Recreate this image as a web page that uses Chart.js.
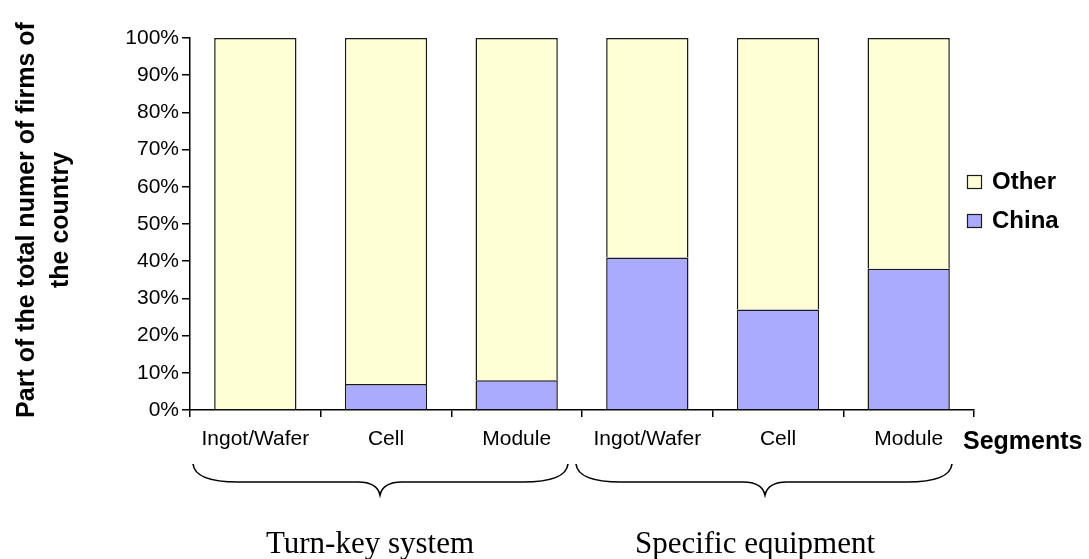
<!DOCTYPE html>
<html>
<head>
<meta charset="utf-8">
<script src="https://cdn.jsdelivr.net/npm/chart.js@4/dist/chart.umd.min.js"></script>
<style>
  html, body { margin: 0; padding: 0; background: #fff; }
  #wrap { width: 1089px; height: 559px; position: relative; }
</style>
</head>
<body>
<div id="wrap"><canvas id="chart" width="1089" height="559"></canvas></div>
<script>
// Segment categories (two groups of three)
const segments   = ['Ingot/Wafer', 'Cell', 'Module', 'Ingot/Wafer', 'Cell', 'Module'];
const groups     = ['Turn-key system', 'Specific equipment'];
// Share of firms, percent
const chinaShare = [0, 7, 8, 41, 27, 38];
const otherShare = [100, 93, 92, 59, 73, 62];
const yTicks     = [0, 10, 20, 30, 40, 50, 60, 70, 80, 90, 100];

const OTHER_FILL = '#FFFFD5';
const CHINA_FILL = '#AAAAFF';
const EDGE  = '#1a1a1a';
const SANS  = "'Liberation Sans', Arial, sans-serif";
const SERIF = "'Liberation Serif', 'Times New Roman', serif";

Chart.defaults.font.family = SANS;
Chart.defaults.color = '#000';

// Everything Chart.js has no native element for: legend, axis titles, braces
const extras = {
  id: 'extras',
  afterDraw(chart) {
    const { ctx, scales: { x } } = chart;
    ctx.save();
    ctx.fillStyle = '#000';
    ctx.strokeStyle = '#000';

    // y axis title, two rotated lines
    ctx.font = `bold 25px ${SANS}`;
    ctx.textAlign = 'center';
    ctx.textBaseline = 'alphabetic';
    [['Part of the total numer of firms of', 34], ['the country', 68]].forEach(([txt, bx]) => {
      ctx.save();
      ctx.translate(bx, 220);
      ctx.rotate(-Math.PI / 2);
      ctx.fillText(txt, 0, 0);
      ctx.restore();
    });

    // legend
    const legend = [['Other', OTHER_FILL, 175], ['China', CHINA_FILL, 214]];
    ctx.textAlign = 'left';
    ctx.font = `bold 24px ${SANS}`;
    ctx.lineWidth = 1.2;
    ctx.strokeStyle = EDGE;
    legend.forEach(([label, fill, by]) => {
      ctx.fillStyle = fill;
      ctx.fillRect(967.5, by + 0.5, 14, 13);
      ctx.strokeRect(967.5, by + 0.5, 14, 13);
      ctx.fillStyle = '#000';
      ctx.fillText(label, 992, by + 14);
    });

    // x axis title
    ctx.font = `bold 25px ${SANS}`;
    ctx.fillText('Segments', 963, 449);

    // group braces + group labels
    const step = x.getPixelForValue(1) - x.getPixelForValue(0);
    const top = 464, mid = 482, bot = 495;
    ctx.strokeStyle = '#000';
    ctx.lineWidth = 1.6;
    groups.forEach((g, i) => {
      const c = x.getPixelForValue(i * 3 + 1);
      const tip = c - 6 - i * 7;
      const x0 = c - 1.5 * step + 3 - i * 9;
      const x1 = c + 1.5 * step - 14 - i * 8;
      ctx.beginPath();
      ctx.moveTo(x0, top);
      ctx.quadraticCurveTo(x0 + 2, mid, x0 + 45, mid);
      ctx.lineTo(tip - 22, mid);
      ctx.quadraticCurveTo(tip - 3, mid, tip, bot);
      ctx.quadraticCurveTo(tip + 3, mid, tip + 22, mid);
      ctx.lineTo(x1 - 45, mid);
      ctx.quadraticCurveTo(x1 - 2, mid, x1, top);
      ctx.stroke();

      ctx.font = `31px ${SERIF}`;
      ctx.textAlign = 'center';
      ctx.fillText(g, tip - 10, 553);
    });
    ctx.restore();
  }
};

new Chart(document.getElementById('chart'), {
  type: 'bar',
  data: {
    labels: segments,
    datasets: [
      {
        label: 'China',
        data: chinaShare,
        backgroundColor: CHINA_FILL,
        borderColor: EDGE,
        borderWidth: 1.5,
        borderSkipped: 'start',
        stack: 's',
      },
      {
        label: 'Other',
        data: otherShare,
        backgroundColor: OTHER_FILL,
        borderColor: EDGE,
        borderWidth: 1.5,
        borderSkipped: 'start',
        stack: 's',
      },
    ],
  },
  options: {
    responsive: false,
    animation: false,
    layout: { padding: { left: 0, top: 38, right: 115, bottom: 0 } },
    plugins: {
      legend:  { display: false },
      tooltip: { enabled: false },
    },
    datasets: { bar: { categoryPercentage: 1, barPercentage: 0.63 } },
    scales: {
      x: {
        stacked: true,
        afterFit: s => { s.height = 149; },
        grid:   { offset: true, drawOnChartArea: false, tickLength: 7, color: '#000', lineWidth: 1.5 },
        border: { color: '#000', width: 1.5 },
        ticks:  { font: { size: 21 }, color: '#000', padding: 10, maxRotation: 0, autoSkip: false },
      },
      y: {
        stacked: true,
        min: 0,
        max: 100,
        afterFit: s => { s.width = 190; },
        afterBuildTicks: s => { s.ticks = yTicks.map(v => ({ value: v })); },
        grid:   { drawOnChartArea: false, tickLength: 8, color: '#000', lineWidth: 1.5 },
        border: { color: '#000', width: 1.5 },
        ticks:  { font: { size: 21 }, color: '#000', padding: 3, callback: v => v + '%' },
      },
    },
  },
  plugins: [extras],
});
</script>
</body>
</html>
